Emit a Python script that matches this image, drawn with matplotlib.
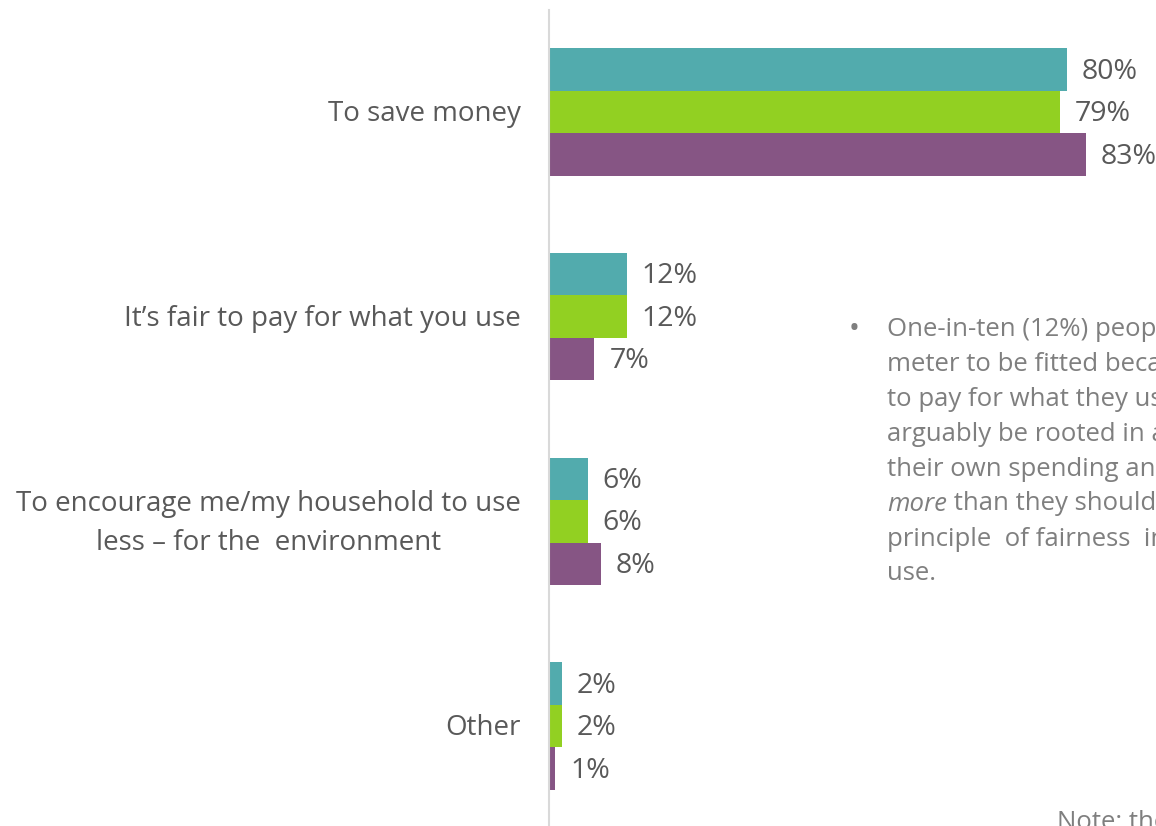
import matplotlib.pyplot as plt
import numpy as np

# --- data ---
categories = ['To save money',
              'It\u2019s fair to pay for what you use',
              'To encourage me/my household to use\nless \u2013 for the  environment',
              'Other']
series_a = [80, 12, 6, 2]   # teal
series_b = [79, 12, 6, 2]   # green
series_c = [83, 7, 8, 1]    # purple
colors = ['#52ABAD', '#92D022', '#865584']

bullet_lines = ['One-in-ten (12%) people',
                'meter to be fitted because',
                'to pay for what they use',
                'arguably be rooted in a',
                'their own spending and',
                None,  # italic line handled separately
                'principle  of fairness  in',
                'use.']

plt.rcParams['font.family'] = ['Open Sans', 'DejaVu Sans']

W, H = 1156, 826
fig = plt.figure(figsize=(W / 100, H / 100), dpi=100)
fig.patch.set_facecolor('white')

# axes placed in pixel terms: left edge at x=549, top at y=10
px_per_pct = 6.47
left = 549
xmax = (W - left) / px_per_pct
group_gap = 204.7
top_px = 10
y_top = -(112 - top_px) / group_gap
y_bot = (H - 112) / group_gap
ax = fig.add_axes([left / W, 0, (W - left) / W, (H - top_px) / H])
ax.set_xlim(0, xmax)
ax.set_ylim(y_bot, y_top)

h = 42.5 / group_gap
y = np.arange(len(categories))
for i, (vals, c) in enumerate(zip([series_a, series_b, series_c], colors)):
    ypos = y + (i - 1) * h
    ax.barh(ypos, vals, height=h, color=c, edgecolor='none')
    for yy, v in zip(ypos, vals):
        ax.text(v + 15 / px_per_pct, yy + 0.01, f'{v}%', va='center', ha='left',
                fontsize=20.5, color='#595959', clip_on=False)

for s in ['top', 'right', 'bottom']:
    ax.spines[s].set_visible(False)
ax.spines['left'].set_color('#D9D9D9')
ax.spines['left'].set_linewidth(1.5)
ax.set_xticks([])
ax.set_yticks([])

# category labels to the left of the axis
for yy, lab in zip(y, categories):
    ax.text(-28 / px_per_pct, yy + 0.01, lab, ha='right', va='center',
            multialignment='center', fontsize=20, color='#595959',
            linespacing=1.5, clip_on=False)

# commentary box on the right
tx, ty0, dy = 887 / W, 1 - 329 / H, 35 / H
fig.text(849 / W, ty0, '\u2022', fontsize=21, color='#7F7F7F', va='center')
fs = 18.5
for k, line in enumerate(bullet_lines):
    yk = ty0 - k * dy
    if line is None:
        t = fig.text(tx, yk, 'more', fontsize=fs, color='#7F7F7F',
                     va='center', style='italic')
        fig.canvas.draw()
        bb = t.get_window_extent()
        fig.text(bb.x1 / W, yk, ' than they should', fontsize=fs,
                 color='#7F7F7F', va='center')
    else:
        fig.text(tx, yk, line, fontsize=fs, color='#7F7F7F', va='center')

fig.text(1057 / W, 1 - 810 / H, 'Note: the', fontsize=fs, color='#7F7F7F',
         va='top')

fig.savefig('out.png', dpi=100)
